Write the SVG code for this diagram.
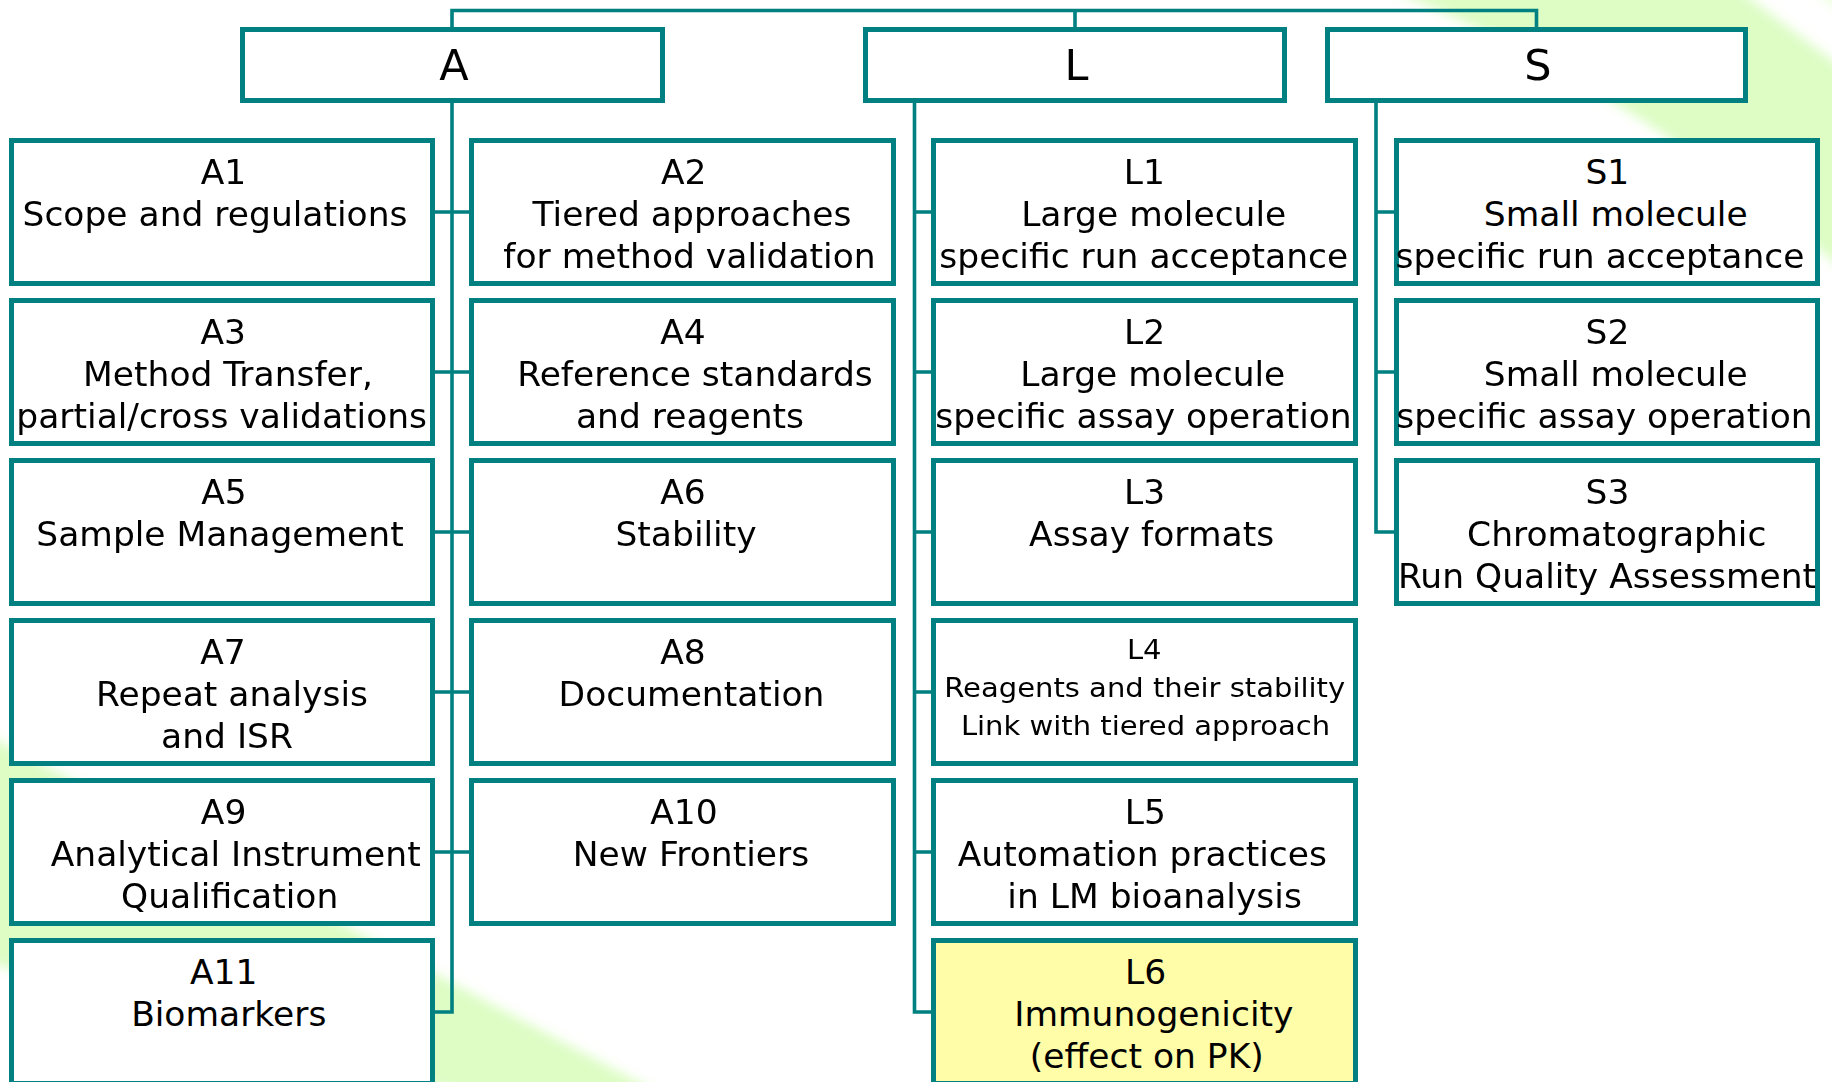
<svg xmlns="http://www.w3.org/2000/svg" width="1832" height="1082" viewBox="0 0 1832 1082">
<defs>
<style>
.box{fill:#ffffff;stroke:#008080;stroke-width:5}
.hl{fill:#FFFDA8}
.t{font-family:"DejaVu Sans",Verdana,sans-serif;font-size:33px;fill:#000;text-anchor:middle}
.sm{font-size:27px}
.top{font-size:43px}
.conn{stroke:#008080;stroke-width:3.6;fill:none}
.bg{fill:#DDFDC4}
</style>
<filter id="soft" x="-20%" y="-20%" width="140%" height="140%"><feGaussianBlur stdDeviation="6"/></filter>
</defs>
<rect width="1832" height="1082" fill="#ffffff"/>
<g id="background" filter="url(#soft)">
<path class="bg" d="M1340,-30 L1712,-30 L1900,111 L1900,320 Q1640,80 1340,-30 Z"/>
<polygon class="bg" points="1790,-30 1900,-30 1900,60" opacity="0.6"/>
<polygon class="bg" points="-50,715 700,1115 700,1160 -50,952"/>
</g>
<g id="connectors">
<path class="conn" d="M452,27 V10.5 H1536.5 V27 M1075,10.5 V27"/>
<path class="conn" d="M452,103 V1012 H435 M435,212 H469 M435,372 H469 M435,532 H469 M435,692 H469 M435,852 H469"/>
<path class="conn" d="M914.5,103 V1012 H931 M914.5,212 H931 M914.5,372 H931 M914.5,532 H931 M914.5,692 H931 M914.5,852 H931"/>
<path class="conn" d="M1376,103 V532 H1394 M1376,212 H1394 M1376,372 H1394"/>
</g>
<g id="A">
<rect class="box" x="242.5" y="29.5" width="420" height="71"/>
<text class="t top" x="454" y="80">A</text>
</g>
<g id="L">
<rect class="box" x="865.5" y="29.5" width="419" height="71"/>
<text class="t top" x="1076.5" y="80">L</text>
</g>
<g id="S">
<rect class="box" x="1327.5" y="29.5" width="418" height="71"/>
<text class="t top" x="1538" y="80">S</text>
</g>
<g id="A1">
<rect class="box" x="11.5" y="140.5" width="421" height="143"/>
<text class="t" transform="translate(223.5,183.5) scale(1.045,1)">A1</text>
<text class="t" transform="translate(215,225.5) scale(1.045,1)">Scope and regulations</text>
</g>
<g id="A2">
<rect class="box" x="471.5" y="140.5" width="422" height="143"/>
<text class="t" transform="translate(683.7,183.5) scale(1.045,1)">A2</text>
<text class="t" transform="translate(692,225.5) scale(1.045,1)">Tiered approaches</text>
<text class="t" transform="translate(689.5,267.5) scale(1.045,1)">for method validation</text>
</g>
<g id="L1">
<rect class="box" x="933.5" y="140.5" width="422" height="143"/>
<text class="t" transform="translate(1144.4,183.5) scale(1.045,1)">L1</text>
<text class="t" transform="translate(1153.7,225.5) scale(1.045,1)">Large molecule</text>
<text class="t" transform="translate(1143.8,267.5) scale(1.045,1)">specific run acceptance</text>
</g>
<g id="S1">
<rect class="box" x="1396.5" y="140.5" width="421" height="143"/>
<text class="t" transform="translate(1607.3,183.5) scale(1.045,1)">S1</text>
<text class="t" transform="translate(1615.7,225.5) scale(1.045,1)">Small molecule</text>
<text class="t" transform="translate(1600,267.5) scale(1.045,1)">specific run acceptance</text>
</g>
<g id="A3">
<rect class="box" x="11.5" y="300.5" width="421" height="143"/>
<text class="t" transform="translate(223.3,343.5) scale(1.045,1)">A3</text>
<text class="t" transform="translate(228,385.5) scale(1.045,1)">Method Transfer,</text>
<text class="t" transform="translate(221.7,427.5) scale(1.045,1)">partial/cross validations</text>
</g>
<g id="A4">
<rect class="box" x="471.5" y="300.5" width="422" height="143"/>
<text class="t" transform="translate(683,343.5) scale(1.045,1)">A4</text>
<text class="t" transform="translate(695,385.5) scale(1.045,1)">Reference standards</text>
<text class="t" transform="translate(690,427.5) scale(1.045,1)">and reagents</text>
</g>
<g id="L2">
<rect class="box" x="933.5" y="300.5" width="422" height="143"/>
<text class="t" transform="translate(1144.6,343.5) scale(1.045,1)">L2</text>
<text class="t" transform="translate(1152.8,385.5) scale(1.045,1)">Large molecule</text>
<text class="t" transform="translate(1143.5,427.5) scale(1.045,1)">specific assay operation</text>
</g>
<g id="S2">
<rect class="box" x="1396.5" y="300.5" width="421" height="143"/>
<text class="t" transform="translate(1607.5,343.5) scale(1.045,1)">S2</text>
<text class="t" transform="translate(1615.7,385.5) scale(1.045,1)">Small molecule</text>
<text class="t" transform="translate(1604.5,427.5) scale(1.045,1)">specific assay operation</text>
</g>
<g id="A5">
<rect class="box" x="11.5" y="460.5" width="421" height="143"/>
<text class="t" transform="translate(224,503.5) scale(1.045,1)">A5</text>
<text class="t" transform="translate(220,545.5) scale(1.045,1)">Sample Management</text>
</g>
<g id="A6">
<rect class="box" x="471.5" y="460.5" width="422" height="143"/>
<text class="t" transform="translate(683,503.5) scale(1.045,1)">A6</text>
<text class="t" transform="translate(686,545.5) scale(1.045,1)">Stability</text>
</g>
<g id="L3">
<rect class="box" x="933.5" y="460.5" width="422" height="143"/>
<text class="t" transform="translate(1144.6,503.5) scale(1.045,1)">L3</text>
<text class="t" transform="translate(1151.6,545.5) scale(1.045,1)">Assay formats</text>
</g>
<g id="S3">
<rect class="box" x="1396.5" y="460.5" width="421" height="143"/>
<text class="t" transform="translate(1607.5,503.5) scale(1.045,1)">S3</text>
<text class="t" transform="translate(1616.7,545.5) scale(1.045,1)">Chromatographic</text>
<text class="t" transform="translate(1607,587.5) scale(1.045,1)">Run Quality Assessment</text>
</g>
<g id="A7">
<rect class="box" x="11.5" y="620.5" width="421" height="143"/>
<text class="t" transform="translate(223,663.5) scale(1.045,1)">A7</text>
<text class="t" transform="translate(232,705.5) scale(1.045,1)">Repeat analysis</text>
<text class="t" transform="translate(227,747.5) scale(1.045,1)">and ISR</text>
</g>
<g id="A8">
<rect class="box" x="471.5" y="620.5" width="422" height="143"/>
<text class="t" transform="translate(683,663.5) scale(1.045,1)">A8</text>
<text class="t" transform="translate(691.5,705.5) scale(1.045,1)">Documentation</text>
</g>
<g id="L4">
<rect class="box" x="933.5" y="620.5" width="422" height="143"/>
<text class="t sm" transform="translate(1144.2,659) scale(1.075,1)">L4</text>
<text class="t sm" transform="translate(1144.7,697) scale(1.075,1)">Reagents and their stability</text>
<text class="t sm" transform="translate(1145.5,735) scale(1.075,1)">Link with tiered approach</text>
</g>
<g id="A9">
<rect class="box" x="11.5" y="780.5" width="421" height="143"/>
<text class="t" transform="translate(223.6,823.5) scale(1.045,1)">A9</text>
<text class="t" transform="translate(235.7,865.5) scale(1.045,1)">Analytical Instrument</text>
<text class="t" transform="translate(229.7,907.5) scale(1.045,1)">Qualification</text>
</g>
<g id="A10">
<rect class="box" x="471.5" y="780.5" width="422" height="143"/>
<text class="t" transform="translate(684,823.5) scale(1.045,1)">A10</text>
<text class="t" transform="translate(691,865.5) scale(1.045,1)">New Frontiers</text>
</g>
<g id="L5">
<rect class="box" x="933.5" y="780.5" width="422" height="143"/>
<text class="t" transform="translate(1145.3,823.5) scale(1.045,1)">L5</text>
<text class="t" transform="translate(1142.3,865.5) scale(1.045,1)">Automation practices</text>
<text class="t" transform="translate(1154.6,907.5) scale(1.045,1)">in LM bioanalysis</text>
</g>
<g id="A11">
<rect class="box" x="11.5" y="940.5" width="421" height="143"/>
<text class="t" transform="translate(223.7,983.5) scale(1.045,1)">A11</text>
<text class="t" transform="translate(228.8,1025.5) scale(1.045,1)">Biomarkers</text>
</g>
<g id="L6">
<rect class="box hl" x="933.5" y="940.5" width="422" height="143"/>
<text class="t" transform="translate(1145.5,983.5) scale(1.045,1)">L6</text>
<text class="t" transform="translate(1153.8,1025.5) scale(1.045,1)">Immunogenicity</text>
<text class="t" transform="translate(1146.8,1067.5) scale(1.045,1)">(effect on PK)</text>
</g>
</svg>
